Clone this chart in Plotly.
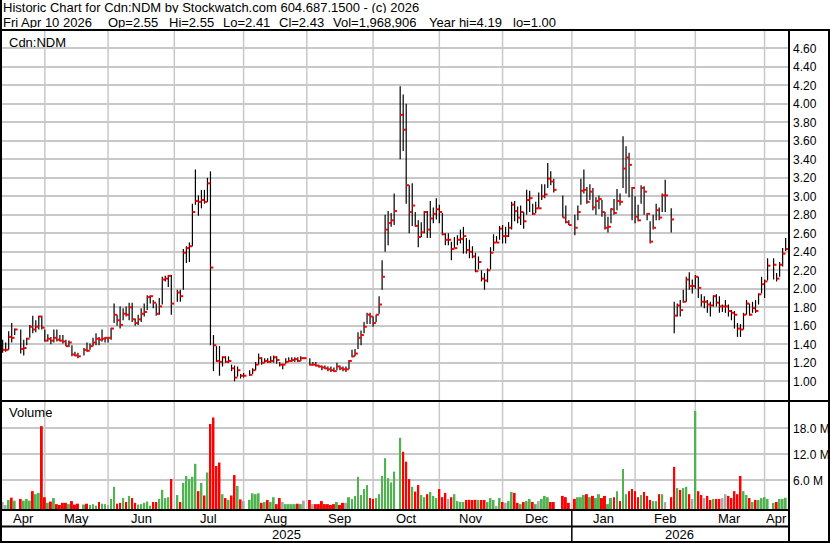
import plotly.graph_objects as go
import pandas as pd

# ---------------------------------------------------------------- data ----
# One slot per weekday from 2025-04-11 to 2026-04-10; exchange holidays are None.
first_day, last_day = "2025-04-11", "2026-04-10"

high = [
    # Apr 2025
    1.45, 1.42, 1.54, 1.63, 1.57, None, 1.56, 1.45, 1.47, 1.61, 1.71, 1.66, 1.71, 1.71,
    # May
    1.56, 1.51, 1.48, 1.56, 1.56, 1.50, 1.50, 1.45, 1.44, 1.39, 1.32, 1.31, None, 1.36,
    1.42, 1.41, 1.47, 1.52, 1.48, 1.56, 1.48, 1.47,
    # Jun
    1.58, 1.84, 1.72, 1.81, 1.79, 1.81, 1.85, 1.85, 1.68, 1.72, 1.79, 1.84, 1.93, 1.93,
    1.88, 1.84, 1.90, 2.13, 2.14, 2.15, 2.15,
    # Jul
    None, 1.99, 1.99, 2.43, 2.46, 2.50, 2.92, 3.29, 3.01, 3.07, 3.07, 3.20, 3.27, 1.50,
    1.38, 1.38, 1.27, 1.27, 1.27, 1.18, 1.17, 1.16, 1.08,
    # Aug
    1.09, None, 1.12, 1.14, 1.21, 1.30, 1.26, 1.25, 1.25, 1.27, 1.28, 1.27, 1.21, 1.19,
    1.25, 1.26, 1.26, 1.26, 1.26, 1.27, 1.26,
    # Sep
    None, 1.25, 1.21, 1.21, 1.18, 1.17, 1.17, 1.16, 1.16, 1.15, 1.20, 1.17, 1.16, 1.16,
    1.23, 1.34, 1.35, 1.53, 1.55, 1.64, 1.74, 1.74,
    # Oct
    1.70, 1.72, 1.92, 2.31, 2.80, 2.84, 2.82, 3.03, None, 4.19, 4.10, 4.00, 3.12, 3.14,
    2.83, 2.74, 2.72, 2.84, 2.84, 2.95, 2.88, 2.98, 2.91,
    # Nov
    2.82, 2.60, 2.60, 2.51, 2.56, 2.58, 2.64, 2.67, 2.55, 2.53, 2.46, 2.39, 2.35, 2.20,
    2.17, 2.22, 2.45, 2.59, 2.57, 2.68,
    # Dec
    2.69, 2.67, 2.72, 2.94, 2.95, 2.89, 2.90, 2.83, 3.07, 3.06, 2.92, 2.94, 3.04, 3.13,
    3.13, 3.36, 3.27, 3.19, None, None, 3.01, 2.90, 2.74,
    # Jan 2026
    None, 2.80, 2.90, 3.19, 3.29, 3.10, 3.13, 3.09, 2.99, 3.01, 2.96, 2.83, 2.78, 2.87,
    2.97, 3.08, 3.03, 3.65, 3.54, 3.47, 3.10, 3.00,
    # Feb
    2.91, 3.12, 3.11, 2.82, 2.73, 2.80, 2.92, 2.88, 3.03, 3.18, None, 2.87, 1.86, 1.84,
    1.88, 1.99, 2.13, 2.18, 2.10, 2.15,
    # Mar
    2.13, 1.94, 1.92, 1.88, 1.86, 1.93, 1.94, 1.92, 1.83, 1.88, 1.83, 1.77, 1.76, 1.63,
    1.62, 1.74, 1.88, 1.84, 1.86, 1.88, 1.95, 2.13,
    # Apr 2026
    2.10, 2.33, None, 2.33, 2.17, 2.29, 2.44, 2.55,
]

low = [
    1.31, 1.32, 1.34, 1.42, 1.50, None, 1.30, 1.28, 1.39, 1.47, 1.52, 1.53, 1.56, 1.56,
    1.43, 1.43, 1.40, 1.42, 1.43, 1.43, 1.41, 1.38, 1.37, 1.27, 1.27, 1.25, None, 1.28,
    1.32, 1.34, 1.38, 1.39, 1.39, 1.43, 1.42, 1.42,
    1.45, 1.63, 1.60, 1.57, 1.66, 1.70, 1.66, 1.64, 1.60, 1.61, 1.64, 1.70, 1.77, 1.84,
    1.79, 1.71, 1.72, 1.83, 2.08, 2.02, 1.72,
    None, 1.86, 1.86, 1.99, 2.28, 2.29, 2.46, 2.91, 2.79, 2.87, 2.92, 2.94, 1.39, 1.11,
    1.21, 1.06, 1.16, 1.20, 1.20, 1.11, 1.00, 1.05, 1.03,
    1.04, None, 1.06, 1.08, 1.12, 1.18, 1.18, 1.20, 1.20, 1.20, 1.20, 1.19, 1.16, 1.13,
    1.19, 1.21, 1.21, 1.21, 1.21, 1.22, 1.24,
    None, 1.17, 1.17, 1.16, 1.15, 1.12, 1.13, 1.11, 1.10, 1.10, 1.12, 1.12, 1.11, 1.10,
    1.13, 1.26, 1.27, 1.35, 1.39, 1.52, 1.62, 1.62,
    1.59, 1.64, 1.73, 1.99, 2.40, 2.47, 2.67, 2.69, None, 3.40, 3.49, 2.92, 2.60, 2.68,
    2.67, 2.45, 2.56, 2.60, 2.55, 2.55, 2.71, 2.75, 2.71,
    2.58, 2.47, 2.47, 2.31, 2.44, 2.47, 2.49, 2.38, 2.38, 2.33, 2.33, 2.18, 2.21, 2.08,
    1.99, 2.07, 2.21, 2.41, 2.50, 2.53,
    2.49, 2.49, 2.56, 2.64, 2.73, 2.71, 2.69, 2.65, 2.80, 2.83, 2.80, 2.82, 2.87, 2.96,
    2.98, 3.09, 3.12, 3.04, None, None, 2.77, 2.71, 2.69,
    None, 2.58, 2.74, 2.91, 3.03, 2.92, 2.96, 2.85, 2.80, 2.86, 2.78, 2.64, 2.61, 2.71,
    2.80, 2.85, 2.90, 3.09, 3.03, 2.99, 2.74, 2.71,
    2.73, 2.92, 2.80, 2.74, 2.49, 2.64, 2.74, 2.74, 2.83, 2.83, None, 2.61, 1.52, 1.70,
    1.70, 1.85, 1.86, 1.99, 1.95, 2.00,
    1.90, 1.81, 1.79, 1.74, 1.70, 1.81, 1.81, 1.74, 1.75, 1.74, 1.70, 1.66, 1.57, 1.48,
    1.48, 1.56, 1.72, 1.71, 1.74, 1.74, 1.83, 1.95,
    1.90, 2.09, None, 2.10, 2.08, 2.13, 2.24, 2.41,
]

close = [
    1.34, 1.34, 1.48, 1.47, 1.56, None, 1.35, 1.36, 1.46, 1.59, 1.56, 1.59, 1.70, 1.58,
    1.44, 1.46, 1.44, 1.47, 1.45, 1.44, 1.43, 1.38, 1.42, 1.29, 1.28, 1.27, None, 1.34,
    1.33, 1.38, 1.42, 1.46, 1.45, 1.46, 1.47, 1.47,
    1.57, 1.72, 1.66, 1.61, 1.73, 1.72, 1.80, 1.67, 1.63, 1.67, 1.73, 1.75, 1.91, 1.92,
    1.85, 1.73, 1.81, 2.10, 2.11, 2.14, 1.84,
    None, 1.96, 1.92, 2.39, 2.44, 2.46, 2.83, 2.95, 2.94, 2.96, 2.94, 3.14, 2.23, 1.39,
    1.22, 1.21, 1.26, 1.21, 1.22, 1.14, 1.04, 1.12, 1.06,
    1.06, None, 1.07, 1.12, 1.18, 1.25, 1.20, 1.22, 1.21, 1.22, 1.26, 1.23, 1.18, 1.18,
    1.21, 1.22, 1.23, 1.24, 1.22, 1.25, 1.25,
    None, 1.18, 1.18, 1.17, 1.16, 1.15, 1.14, 1.13, 1.12, 1.11, 1.16, 1.14, 1.13, 1.13,
    1.22, 1.27, 1.30, 1.47, 1.50, 1.59, 1.72, 1.70,
    1.63, 1.72, 1.83, 2.13, 2.64, 2.71, 2.74, 2.84, None, 3.88, 3.72, 3.12, 2.83, 2.90,
    2.68, 2.56, 2.61, 2.83, 2.64, 2.76, 2.81, 2.86, 2.83,
    2.59, 2.53, 2.53, 2.43, 2.44, 2.53, 2.54, 2.57, 2.42, 2.40, 2.35, 2.19, 2.29, 2.11,
    2.09, 2.20, 2.39, 2.50, 2.50, 2.65,
    2.57, 2.57, 2.66, 2.91, 2.84, 2.77, 2.83, 2.73, 2.96, 2.98, 2.81, 2.87, 2.87, 3.00,
    3.02, 3.19, 3.16, 3.07, None, None, 2.77, 2.72, 2.69,
    None, 2.66, 2.83, 3.06, 3.07, 2.94, 3.05, 2.88, 2.95, 2.97, 2.83, 2.66, 2.67, 2.86,
    2.82, 2.95, 2.94, 3.30, 3.42, 3.34, 3.09, 2.78,
    2.74, 3.09, 3.05, 2.81, 2.51, 2.66, 2.85, 2.77, 3.01, 3.01, None, 2.75, 1.71, 1.82,
    1.77, 1.86, 2.10, 2.03, 2.03, 2.13,
    2.01, 1.86, 1.86, 1.83, 1.82, 1.92, 1.85, 1.81, 1.81, 1.81, 1.76, 1.74, 1.72, 1.57,
    1.56, 1.72, 1.84, 1.72, 1.79, 1.76, 1.94, 2.05,
    2.08, 2.25, None, 2.26, 2.11, 2.26, 2.38, 2.43,
]

volume_m = [  # millions of shares
    1.07, 0.30, 1.45, 2.0, 1.3, None, 1.7, 1.3, 1.7, 1.3, 3.5, 2.8, 3.1, 18.5,
    2.1, 0.8, 1.1, 1.9, 0.5, 0.3, 0.8, 0.8, 0.5, 1.2, 0.4, 0.6, None, 0.4,
    0.6, 0.3, 0.5, 0.15, 1.0, 0.6, 0.5, 0.3,
    1.7, 4.5, 0.6, 0.8, 1.9, 1.0, 2.4, 1.9, 0.8, 0.4, 0.5, 0.8, 1.1, 0.15,
    1.0, 1.0, 1.7, 3.8, 1.9, 2.1, 6.3,
    None, 2.6, 1.0, 5.4, 7.0, 6.3, 6.8, 9.8, 3.5, 5.4, 2.5, 7.8, 19.0, 20.5,
    9.3, 10.1, 2.8, 1.9, 1.5, 2.5, 7.2, 4.7, 1.6,
    1.2, None, 1.5, 3.0, 2.8, 3.0, 0.8, 1.0, 1.45, 1.0, 2.1, 0.5, 1.9, 1.0,
    0.5, 0.5, 0.5, 0.5, 0.6, 0.5, 1.3,
    None, 1.45, 0.5, 0.5, 0.5, 1.2, 0.5, 0.5, 0.3, 0.5, 1.0, 0.3, 0.8, 0.8,
    2.1, 1.7, 2.4, 6.8, 2.6, 4.0, 4.9, 1.9,
    1.7, 1.9, 2.8, 7.0, 11.1, 6.5, 5.5, 8.0, None, 15.8, 12.6, 10.3, 6.3, 4.5,
    3.4, 4.9, 2.6, 2.1, 2.8, 3.3, 2.4, 1.9, 4.0,
    2.1, 3.1, 1.7, 2.1, 2.8, 1.2, 1.0, 1.0, 1.45, 1.5, 1.45, 1.5, 1.45, 1.45,
    1.45, 1.0, 1.9, 1.45, 0.1, 1.9,
    1.0, 0.8, 1.2, 3.3, 3.1, 0.8, 0.5, 1.0, 1.2, 1.7, 1.0, 0.5, 1.2, 1.7,
    2.4, 2.1, 1.0, 1.0, None, None, 2.4, 2.1, 0.8,
    None, 1.7, 2.1, 2.1, 2.6, 2.8, 2.1, 2.4, 1.9, 2.8, 1.9, 2.4, 0.5, 1.9,
    2.1, 3.5, 1.2, 8.6, 2.8, 3.5, 4.0, 3.5,
    2.1, 2.6, 3.3, 2.4, 1.45, 1.2, 1.2, 2.8, 2.8, 1.0, None, 2.1, 9.1, 4.2,
    3.8, 4.2, 4.5, 2.8, 1.7, 22.0,
    3.5, 2.6, 1.9, 2.4, 1.45, 1.7, 1.7, 1.7, 1.9, 2.8, 2.4, 1.9, 3.5, 2.8,
    7.0, 3.5, 2.6, 1.9, 1.0, 1.45, 1.45, 1.9,
    2.1, 1.7, None, 0.8, 1.0, 1.7, 1.7, 1.97,
]

month_labels = ["Apr", "May", "Jun", "Jul", "Aug", "Sep", "Oct", "Nov", "Dec",
                "Jan", "Feb", "Mar", "Apr"]
year_labels = ["2025", "2026"]
price_ticks = [1.00, 1.20, 1.40, 1.60, 1.80, 2.00, 2.20, 2.40, 2.60, 2.80, 3.00,
               3.20, 3.40, 3.60, 3.80, 4.00, 4.20, 4.40, 4.60]
volume_ticks = [6, 12, 18]

header_title = "Historic Chart for Cdn:NDM by Stockwatch.com 604.687.1500 - (c) 2026"
header_quote = ["Fri Apr 10 2026", "Op=2.55", "Hi=2.55", "Lo=2.41", "Cl=2.43",
                "Vol=1,968,906", "Year hi=4.19", "lo=1.00"]

# -------------------------------------------------------------- layout ----
W, H = 830, 543
FONT = "Liberation Sans, Arial, sans-serif"
GRID = "#c8c8c8"
GREEN, RED, GREY = "#4fb34f", "#ff0000", "#a8a8a8"

dates = pd.bdate_range(first_day, last_day)
n = len(dates)
assert n == len(high) == len(low) == len(close) == len(volume_m)
slots = list(range(n))

# month gridlines sit on the last weekday on/before the 1st of each month
month_starts = pd.date_range("2025-05-01", "2026-04-01", freq="MS")
grid_slots = [int(dates.searchsorted(m, side="right") - 1) for m in month_starts]

X0 = -0.22
X1 = X0 + n
PL, PR = 2, 788            # panel left / right pixels


def px(xp):
    return xp / W


def py(yp):
    return 1 - yp / H


# price panel pixel geometry
P_TOP, P_BOT, P_ONE, P_UNIT = 31, 400, 381.3, 92.5
p_range = [1 - (P_BOT - P_ONE) / P_UNIT, 1 + (P_ONE - P_TOP) / P_UNIT]
# volume panel pixel geometry
V_TOP, V_BOT, V_ZERO, V_UNIT = 402, 509, 506.3, 26 / 6
v_range = [-(V_BOT - V_ZERO) / V_UNIT, (V_ZERO - V_TOP) / V_UNIT]
VMIN = v_range[0]

# ---------------------------------------------------------------- marks ---
hl_x, hl_y, cl_x, cl_y = [], [], [], []
for s in slots:
    if high[s] is None:
        continue
    hl_x += [s, s, None]
    hl_y += [low[s], high[s], None]
    cl_x += [s, s + 0.95, None]
    cl_y += [close[s], close[s], None]

vx, vy, vc = [], [], []
prev = None
for s in slots:
    if volume_m[s] is None:
        continue
    c = close[s]
    if prev is None or c == prev:
        col = GREY
    elif c > prev:
        col = GREEN
    else:
        col = RED
    prev = c
    vx.append(s)
    vy.append(volume_m[s] - VMIN)
    vc.append(col)

fig = go.Figure()
fig.add_trace(go.Scatter(x=hl_x, y=hl_y, mode="lines", line=dict(color="#000000", width=1.2),
                         xaxis="x", yaxis="y", hoverinfo="skip", showlegend=False))
fig.add_trace(go.Scatter(x=cl_x, y=cl_y, mode="lines", line=dict(color=RED, width=2),
                         xaxis="x", yaxis="y", hoverinfo="skip", showlegend=False))
fig.add_trace(go.Bar(x=vx, y=vy, base=VMIN, width=0.66, marker=dict(color=vc, line=dict(width=0)),
                     xaxis="x2", yaxis="y2", hoverinfo="skip", showlegend=False))

xcommon = dict(range=[X0, X1], domain=[px(PL), px(PR)], showgrid=False,
               showticklabels=False, ticks="", zeroline=False, showline=False,
               fixedrange=True)
ycommon = dict(side="right", showgrid=True, gridcolor=GRID, gridwidth=1.5, ticks="",
               zeroline=False, showline=False, fixedrange=True, tickmode="array",
               automargin=False, ticklabelstandoff=4,
               tickfont=dict(family=FONT, size=12, color="#000000"))

fig.update_layout(
    width=W, height=H, margin=dict(l=0, r=0, t=0, b=0, pad=0),
    paper_bgcolor="white", plot_bgcolor="white", showlegend=False,
    font=dict(family=FONT, size=13, color="#000000"),
    xaxis=dict(anchor="y", **xcommon),
    xaxis2=dict(anchor="y2", **xcommon),
    yaxis=dict(anchor="x", domain=[py(P_BOT), py(P_TOP)], range=p_range,
               tickvals=price_ticks, ticktext=[f"{v:.2f}" for v in price_ticks], **ycommon),
    yaxis2=dict(anchor="x2", domain=[py(V_BOT), py(V_TOP)], range=v_range,
                tickvals=volume_ticks, ticktext=[f"{v:.1f} M" for v in volume_ticks], **ycommon),
)

# ------------------------------------------------------------ text --------
ann = []


def text(t, x, y, size=13, xanchor="left", xref="paper", box_h=None):
    a = dict(text=t, x=x if xref != "paper" else px(x), y=py(y), xref=xref, yref="paper",
             xanchor=xanchor, yanchor="middle", showarrow=False, borderpad=0,
             font=dict(family=FONT, size=size, color="#000000"))
    if box_h:
        a["height"] = box_h
        a["valign"] = "middle"
    ann.append(a)


text(header_title, 2, 7.5, size=13, box_h=11)
quote_x = [2, 107, 168, 222, 278, 332, 428, 512]
for t, x in zip(header_quote, quote_x):
    text(t, x, 22.5, size=13, box_h=11)
text("Cdn:NDM", 8, 42)
text("Volume", 8, 413)

bounds = [X0] + grid_slots + [X1]
for i, lab in enumerate(month_labels):
    text(lab, (bounds[i] + bounds[i + 1]) / 2, 518.5, xanchor="center", xref="x2")
jan = grid_slots[month_starts.month.tolist().index(1)]
for lab, (a, b) in zip(year_labels, [(X0, jan), (jan, X1)]):
    text(lab, (a + b) / 2, 534, xanchor="center", xref="x2")
fig.update_layout(annotations=ann)

# ------------------------------------------------------------ frame -------
shapes = []

# vertical month gridlines in both panels
for g in grid_slots:
    for (ya, yb) in [(P_TOP, P_BOT), (V_TOP, V_BOT)]:
        shapes.append(dict(type="line", xref="x", yref="paper", x0=g, x1=g, y0=py(yb), y1=py(ya),
                           layer="below", line=dict(color=GRID, width=1.5)))


def hline(y, x0, x1, w=2):
    shapes.append(dict(type="line", xref="paper", yref="paper", x0=px(x0), x1=px(x1),
                       y0=py(y), y1=py(y), line=dict(color="#000000", width=w)))


def vline(x, y0, y1, w=2):
    shapes.append(dict(type="line", xref="paper", yref="paper", x0=px(x), x1=px(x),
                       y0=py(y0), y1=py(y1), line=dict(color="#000000", width=w)))


hline(30, 0, W)
hline(401, 0, W)
hline(510, 0, 789)
hline(526.5, 0, 789)
hline(542, 0, W)
vline(1, 0, H)
vline(789, 30, H)
vline(829, 30, H)
shapes.append(dict(type="line", xref="x2", yref="paper", x0=jan, x1=jan, y0=py(510), y1=py(542),
                   line=dict(color="#000000", width=1.5)))
fig.update_layout(shapes=shapes)

fig.write_html("out.html", config={"displayModeBar": False},
               post_script="document.body.style.margin='0';document.body.style.padding='0';")
